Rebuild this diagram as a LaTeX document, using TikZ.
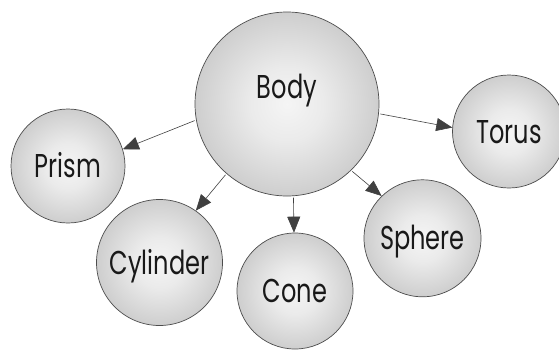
\documentclass[tikz,border=0pt]{standalone}
\usepackage{fontspec}
\setmainfont{Poppins}
\usetikzlibrary{arrows.meta}
\pgfdeclareradialshading{ballshade}{\pgfpoint{0bp}{0bp}}{color(0bp)=(black!4); color(10bp)=(black!8); color(30bp)=(black!23); color(50bp)=(black!42); color(72bp)=(black!42)}
\newcommand\lbl[1]{\scalebox{0.73}[1]{#1}}
\tikzset{
  lblstyle/.style={font=\fontsize{33}{33}\selectfont, text height=23pt, text depth=0pt, text=black!90},
  ball/.style={circle, draw=black!70, line width=0.7pt, shading=ballshade, inner sep=0pt, lblstyle},
  link/.style={draw=black!75, line width=0.6pt, -{Triangle[length=16pt,width=13pt]}, shorten <=1.5pt},
}
\begin{document}
\begin{tikzpicture}[x=1pt,y=-1pt]
\useasboundingbox (0,0) rectangle (559,349);
\clip (0,0) rectangle (559,349);
\node[ball, minimum size=184pt,
  label={[name=bodytext, lblstyle, yshift=17pt]center:\lbl{Body}}]
  (body) at (287,104) {};
\node[ball, minimum size=114pt] (prism) at (68,166) {\lbl{Prism}};
\node[ball, minimum size=113pt] (torus) at (509,131.5) {\lbl{Torus}};
\node[ball, minimum size=126pt] (cylinder) at (159.5,262.5) {\lbl{Cylinder}};
\node[ball, minimum size=116pt] (cone) at (295,291) {\lbl{Cone}};
\node[ball, minimum size=117pt] (sphere) at (422.5,238.3) {\lbl{Sphere}};
\draw[link] (body.190) -- (prism.17);
\draw[link] (body.354) -- (torus.176);
\draw[link] (body.229) -- (cylinder.55);
\draw[link] (body.274) -- (cone.91);
\draw[link] (body.314) -- (sphere.134);
\end{tikzpicture}
\end{document}
